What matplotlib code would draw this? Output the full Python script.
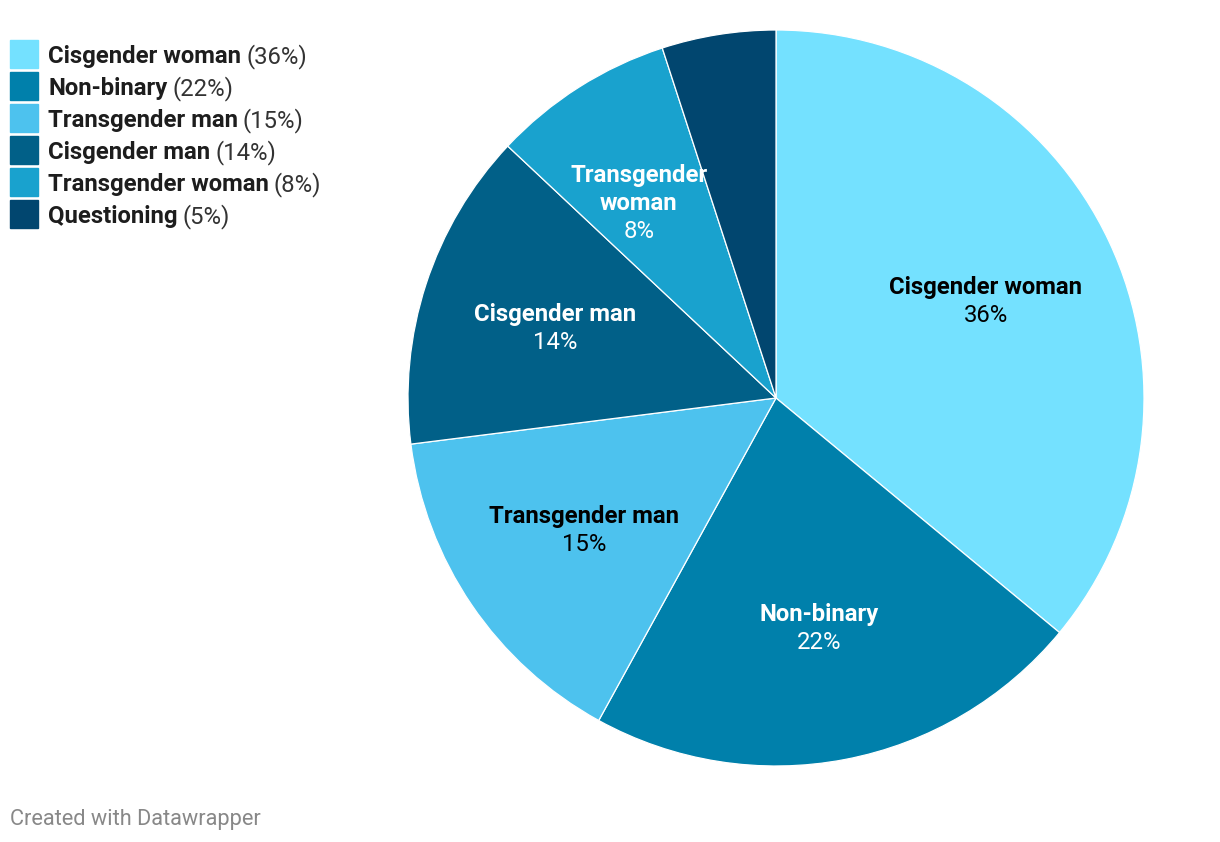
import numpy as np
import matplotlib
matplotlib.use('Agg')
import matplotlib.pyplot as plt
from matplotlib.patches import Rectangle

plt.rcParams['font.family'] = ['Roboto', 'DejaVu Sans']

# 数据
labels = ['Cisgender woman', 'Non-binary', 'Transgender man', 'Cisgender man',
          'Transgender woman', 'Questioning']
values = [36, 22, 15, 14, 8, 5]
colors = ['#74e1ff', '#0080ab', '#4dc2ee', '#016088', '#19a2ce', '#01466f']
label_colors = ['black', 'white', 'black', 'white', 'white', None]
pie_labels = [['Cisgender woman'], ['Non-binary'], ['Transgender man'], ['Cisgender man'],
              ['Transgender', 'woman'], []]

W, H = 1220, 842
fig = plt.figure(figsize=(W / 100, H / 100), dpi=100)

# 饼图区域 (像素坐标)
cx, cy, R = 776, 398, 368
ax = fig.add_axes([(cx - R) / W, (H - cy - R) / H, 2 * R / W, 2 * R / H])
wedges, _ = ax.pie(values, colors=colors, startangle=90, counterclock=False,
                   radius=1, wedgeprops=dict(edgecolor='white', linewidth=0.9))
ax.set_xlim(-1, 1)
ax.set_ylim(-1, 1)
ax.axis('off')

fs = 17.2
lh = 28  # 行距 (像素)
total = sum(values)
start = 90.0
for i, v in enumerate(values):
    span = v / total * 360
    mid = np.deg2rad(start - span / 2)
    start -= span
    if not pie_labels[i]:
        continue
    r = 0.63 if i != 4 else 0.635
    x, y = r * np.cos(mid), r * np.sin(mid)
    lines = pie_labels[i] + [f'{v}%']
    n = len(lines)
    for k, line in enumerate(lines):
        off = ((n - 1) / 2 - k) * lh
        ax.annotate(line, (x, y), xytext=(-12 if i == 4 else 0, off),
                    textcoords='offset pixels',
                    ha='center', va='center_baseline', fontsize=fs,
                    fontweight='bold' if k < n - 1 else 'normal',
                    color=label_colors[i])

# 图例
renderer = fig.canvas.get_renderer()
for i, (lab, v, c) in enumerate(zip(labels, values, colors)):
    top = 40 + i * 32
    fig.patches.append(Rectangle((10 / W, 1 - (top + 28) / H), 28 / W, 28 / H,
                                 transform=fig.transFigure, color=c))
    yc = 1 - (top + 14) / H
    t = fig.text(48 / W, yc, lab, fontsize=fs, fontweight='bold', color='#1d1d1d',
                 ha='left', va='center_baseline')
    bb = t.get_window_extent(renderer)
    fig.text(bb.x1 / W + 5 / W, yc, f'({v}%)', fontsize=fs, color='#333333',
             ha='left', va='center_baseline')

fig.text(10 / W, 1 - 820 / H, 'Created with Datawrapper', fontsize=15.7,
         color='#888888', ha='left', va='center')

fig.savefig('out.png', dpi=100, facecolor='white')
